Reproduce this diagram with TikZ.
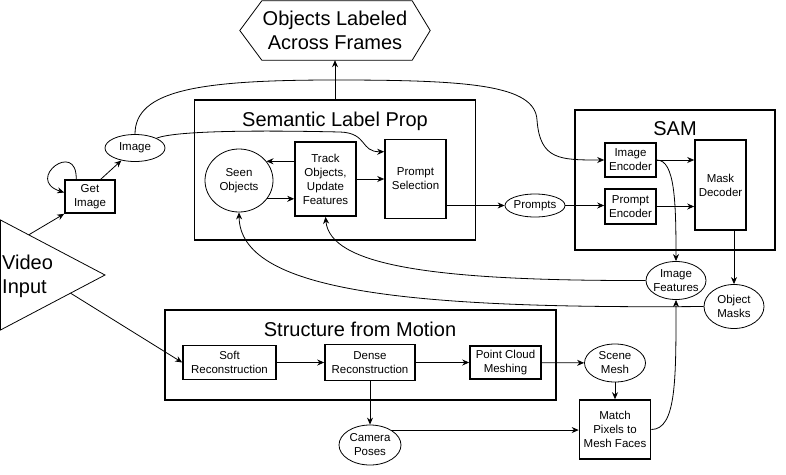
\documentclass[tikz,border=0pt]{standalone}
\usepackage{fontspec}
\setmainfont{Liberation Sans}
\usepackage{tikz}
\usetikzlibrary{shapes.geometric, arrows.meta, positioning, calc}

\begin{document}
\begin{tikzpicture}[
  x=1pt, y=-1pt,
  every node/.style={font=\fontsize{11.5}{14}\selectfont},
  title/.style={font=\fontsize{20}{24}\selectfont, inner sep=0pt},
  group/.style={rectangle, draw, line width=1.6pt, inner sep=0pt},
  proc/.style={rectangle, draw, line width=1.6pt, align=center, inner sep=1pt},
  data/.style={ellipse, draw, line width=0.8pt, align=center, inner sep=-2pt},
  arrow/.style={-{Stealth[length=7pt, width=6pt]}, line width=0.8pt},
]
\useasboundingbox (0,0) rectangle (786,474);

% ── Output ──
\node[title, minimum width=190pt, minimum height=59pt, align=center] (out) at (335,30.5)
  {Objects Labeled\\Across Frames};
\draw[line width=0.8pt] (out.west) -- ([xshift=22pt]out.north west)
  -- ([xshift=-18pt]out.north east) -- (out.east)
  -- ([xshift=-18pt]out.south east) -- ([xshift=22pt]out.south west) -- cycle;

% ── Video input ──
\coordinate (v1) at (0.5,220);
\coordinate (v2) at (105,275);
\coordinate (v3) at (0.5,330);
\draw[line width=0.8pt] (v1) -- (v2) -- (v3) -- cycle;
\node[title, anchor=west, align=left] (video) at (2,276) {Video\\Input};

\node[proc, minimum width=50pt, minimum height=33pt] (getimg) at (90,196.5) {Get\\Image};
\node[data, minimum width=60pt, minimum height=27pt] (img) at (135,148) {Image};

% ── Semantic Label Prop ──
\node[group, minimum width=281pt, minimum height=140pt] (slp) at (335,170) {};
\node[title] (slptitle) at (335,121) {Semantic Label Prop};
\node[data, minimum width=68pt, minimum height=63pt] (seen) at (239,180.5) {Seen\\Objects};
\node[proc, minimum width=61pt, minimum height=74pt] (track) at (325.5,179) {Track\\Objects,\\Update\\Features};
\node[proc, minimum width=61pt, minimum height=79pt] (psel) at (415.5,179) {Prompt\\Selection};
\node[data, minimum width=60pt, minimum height=23pt] (prompts) at (535,205.5) {Prompts};

% ── SAM ──
\node[group, minimum width=200pt, minimum height=140pt] (sam) at (675,180) {};
\node[title] (samtitle) at (675,129) {SAM};
\node[proc, minimum width=51pt, minimum height=34pt] (ienc) at (630.5,160) {Image\\Encoder};
\node[proc, minimum width=51pt, minimum height=35pt] (penc) at (630.5,206.5) {Prompt\\Encoder};
\node[proc, minimum width=51pt, minimum height=90pt] (mdec) at (720.5,185) {Mask\\Decoder};
\node[data, minimum width=60pt, minimum height=38pt] (ifeat) at (676,280.5) {Image\\Features};
\node[data, minimum width=60pt, minimum height=44pt] (omask) at (734,306.5) {Object\\Masks};

% ── Structure from Motion ──
\node[group, minimum width=391pt, minimum height=90pt] (sfm) at (360.5,355) {};
\node[title] (sfmtitle) at (360,329) {Structure from Motion};
\node[proc, minimum width=93pt, minimum height=34pt] (soft) at (229.5,362.5) {Soft\\Reconstruction};
\node[proc, minimum width=90pt, minimum height=36pt] (dense) at (370,362.5) {Dense\\Reconstruction};
\node[proc, minimum width=71pt, minimum height=33pt] (pcm) at (505.5,362.5) {Point Cloud\\Meshing};
\node[data, minimum width=61pt, minimum height=38pt] (smesh) at (615,363) {Scene\\Mesh};
\node[proc, minimum width=71pt, minimum height=59pt] (match) at (615,429.5) {Match\\Pixels to\\Mesh Faces};
\node[data, minimum width=62pt, minimum height=40pt] (cam) at (370,445) {Camera\\Poses};

% straight links
\foreach \a/\b in {slp/out, track/psel, soft/dense, dense/pcm, pcm/smesh, smesh/match, dense/cam}
  \draw[arrow] (\a) -- (\b);

% input side
\draw[arrow] ($(v1)!0.27!(v2)$) -- (getimg.south west);
\draw[arrow] ($(v2)!0.33!(v3)$) -- (soft.west);
\draw[arrow] ([xshift=12pt]getimg.north west) .. controls +(1,-40) and +(-40,-13) .. ([yshift=4pt]getimg.west);
\draw[arrow] ([xshift=-15pt]getimg.north east) -- (img);
\draw[arrow] (img.north) .. controls (135,90) and (200,80) .. (335,80)
  .. controls (470,80) and (535,85) .. (537,120)
  .. controls (540,160) and (560,160) .. (ienc.west);
\draw[arrow] (img.north east) .. controls (175,131) and (250,130) .. (340,132)
  .. controls (368,133) and (360,152) .. ([yshift=-13pt]psel.north west);

% inside the boxes
\draw[arrow] (track.west |- seen.35) -- (seen.35);
\draw[arrow] (seen.-33) -- (seen.-33 -| track.west);
\draw[arrow] (prompts.west -| psel.east) -- (prompts.west);
\draw[arrow] (prompts.east) -- (prompts.east -| penc.west);
\draw[arrow] (ienc.east) -- (ienc.east -| mdec.west);
\draw[arrow] (penc.east) -- (penc.east -| mdec.west);
\draw[arrow] (ienc.east) .. controls +(18,0) and +(0,-60) .. (ifeat.north);
\draw[arrow] (omask.north |- mdec.south) -- (omask.north);

% feedback
\draw[arrow] (ifeat.west) .. controls (430,281) and (330,265) .. (track.south);
\draw[arrow] (omask.west) .. controls (400,309) and (240,290) .. (seen.south);
\draw[arrow] (cam.35) -- (cam.35 -| match.west);
\draw[arrow] (match.east) .. controls +(25,0) and +(0,80) .. (ifeat.south);

\end{tikzpicture}
\end{document}
